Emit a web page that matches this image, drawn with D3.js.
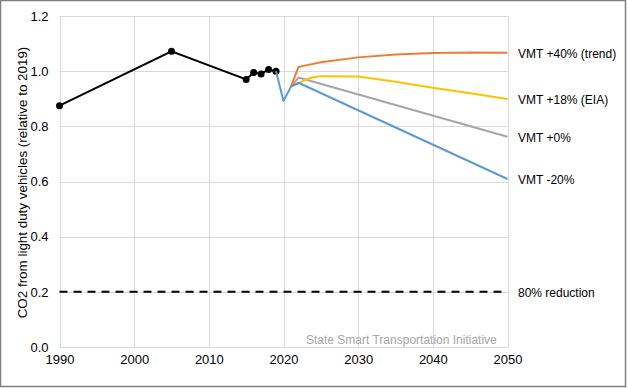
<!DOCTYPE html>
<html><head><meta charset="utf-8">
<script src="https://cdn.jsdelivr.net/npm/d3@7"></script>
<style>body{margin:0;background:#fff;}svg{display:block;font-family:"Liberation Sans",Arial,sans-serif;}</style>
</head><body>
<svg id="c" width="628" height="388"></svg>
<script>
const historyYears = [1990, 2005, 2015, 2016, 2017, 2018, 2019];
const historyValues = [0.875, 1.072, 0.970, 0.995, 0.990, 1.006, 1.000];

const scenarioNames = ["VMT +40% (trend)", "VMT +18% (EIA)", "VMT +0%", "VMT -20%"];
const scenarioColors = ["#ed7d31", "#ffc000", "#a5a5a5", "#5b9bd5"];
const trendYears = [2021, 2022, 2023, 2025, 2030, 2035, 2040, 2045, 2050];
const trendValues = [0.944, 1.015, 1.021, 1.032, 1.050, 1.060, 1.066, 1.068, 1.067];
const eiaYears = [2021, 2022, 2023, 2024, 2025, 2030, 2035, 2040, 2045, 2050];
const eiaValues = [0.944, 0.955, 0.970, 0.978, 0.982, 0.981, 0.962, 0.940, 0.920, 0.899];
const zeroYears = [2021, 2022, 2050];
const zeroValues = [0.944, 0.977, 0.762];
const minusYears = [2019, 2020, 2021, 2022, 2050];
const minusValues = [1.000, 0.892, 0.944, 0.958, 0.609];

const targetYears = [1990, 2050];
const targetValues = [0.2, 0.2];
const targetLabel = "80% reduction";

const xTicks = [1990, 2000, 2010, 2020, 2030, 2040, 2050];
const yTicks = [0, 0.2, 0.4, 0.6, 0.8, 1.0, 1.2];
const yTitle = "CO2 from light duty vehicles (relative to 2019)";
const watermark = "State Smart Transportation Initiative";

const svg = d3.select("#c");
const x = d3.scaleLinear().domain([1990, 2050]).range([59.5, 507.5]);
const y = d3.scaleLinear().domain([0, 1.2]).range([347, 16]);

svg.append("rect").attr("x", 0.5).attr("y", 0.5).attr("width", 625).attr("height", 386)
  .attr("fill", "#fff").attr("stroke", "#7f7f7f").attr("stroke-width", 1.5);

// gridlines
const g = svg.append("g");
g.selectAll(".hg").data(yTicks).join("line")
  .attr("x1", x(1990)).attr("x2", x(2050))
  .attr("y1", d => Math.round(y(d)) + 0.5).attr("y2", d => Math.round(y(d)) + 0.5)
  .attr("stroke", "#d9d9d9").attr("stroke-width", 1);
g.selectAll(".vg").data(xTicks).join("line")
  .attr("x1", d => Math.round(x(d)) + 0.5).attr("x2", d => Math.round(x(d)) + 0.5)
  .attr("y1", y(1.2)).attr("y2", y(0))
  .attr("stroke", "#d9d9d9").attr("stroke-width", 1);

// axes labels via d3 axes
const yAxis = svg.append("g").attr("transform", `translate(${x(1990)},0)`)
  .call(d3.axisLeft(y).tickValues(yTicks).tickFormat(d3.format(".1f")).tickSize(0).tickPadding(11));
yAxis.select(".domain").remove();
yAxis.selectAll("text").attr("font-size", 13).attr("fill", "#000").attr("font-family", "Liberation Sans, Arial, sans-serif");

const xAxis = svg.append("g").attr("transform", `translate(0,${y(0)})`)
  .call(d3.axisBottom(x).tickValues(xTicks).tickFormat(d3.format("d")).tickSize(0).tickPadding(8));
xAxis.select(".domain").remove();
xAxis.selectAll("text").attr("font-size", 13).attr("fill", "#000").attr("font-family", "Liberation Sans, Arial, sans-serif");

svg.append("text").attr("transform", `translate(26.5,182.5) rotate(-90)`)
  .attr("text-anchor", "middle").attr("font-size", 13.4).attr("fill", "#000").text(yTitle);

svg.append("text").attr("x", 306).attr("y", 344).attr("font-size", 12).attr("fill", "#a6a6a6").text(watermark);

const line = d3.line().x(d => x(d[0])).y(d => y(d[1]));
const zip = (a, b) => a.map((v, i) => [v, b[i]]);

// dashed target
svg.append("path").attr("d", line(zip(targetYears, targetValues)))
  .attr("fill", "none").attr("stroke", "#000").attr("stroke-width", 2).attr("stroke-dasharray", "8,6");
svg.append("text").attr("x", 518).attr("y", y(0.2) + 5).attr("font-size", 12).attr("fill", "#000").text(targetLabel);

// history
const hist = zip(historyYears, historyValues);
svg.append("path").attr("d", line(hist)).attr("fill", "none").attr("stroke", "#000").attr("stroke-width", 2);
svg.selectAll(".m").data(hist).join("circle")
  .attr("cx", d => x(d[0])).attr("cy", d => y(d[1])).attr("r", 3.5).attr("fill", "#000");

const scen = [zip(trendYears, trendValues), zip(eiaYears, eiaValues), zip(zeroYears, zeroValues), zip(minusYears, minusValues)];
const order = [2, 1, 0, 3];
order.forEach(i => {
  svg.append("path").attr("d", line(scen[i])).attr("fill", "none")
    .attr("stroke", scenarioColors[i]).attr("stroke-width", 2).attr("stroke-linejoin", "round");
});
scen.forEach((s, i) => {
  const last = s[s.length - 1];
  svg.append("text").attr("x", 518).attr("y", y(last[1]) + 5).attr("font-size", 12)
    .attr("fill", "#000").text(scenarioNames[i]);
});
</script>
</body></html>
